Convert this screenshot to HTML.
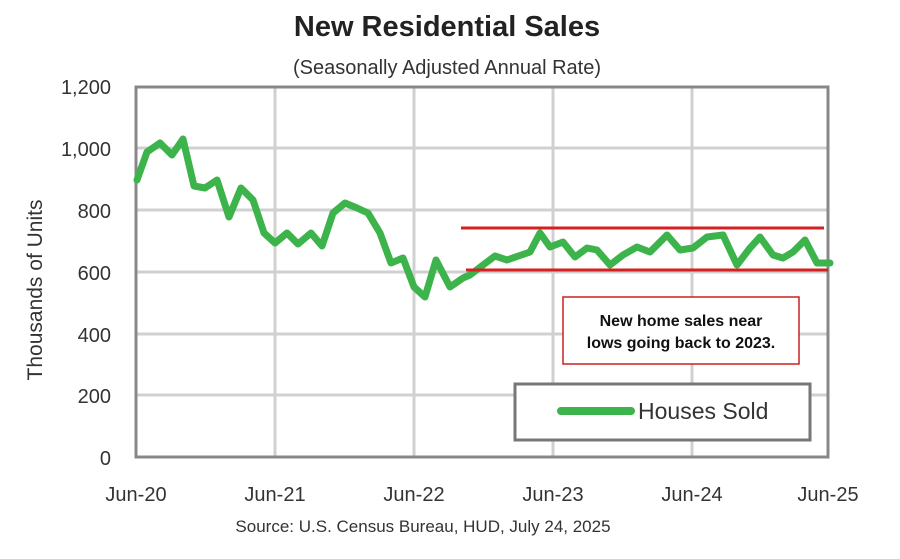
<!DOCTYPE html>
<html><head><meta charset="utf-8"><style>
body{margin:0;background:#fff;width:900px;height:554px;overflow:hidden;font-family:"Liberation Sans","DejaVu Sans",sans-serif}
</style></head><body>
<svg width="900" height="554" viewBox="0 0 900 554" xmlns="http://www.w3.org/2000/svg" font-family="Liberation Sans, DejaVu Sans, sans-serif">
<rect width="900" height="554" fill="#fff"/>
<text x="447" y="36" font-size="29" font-weight="bold" text-anchor="middle" fill="#222">New Residential Sales</text>
<text x="447" y="74" font-size="20" text-anchor="middle" fill="#333">(Seasonally Adjusted Annual Rate)</text>
<g stroke="#d0d0d0" stroke-width="3">
<line x1="135" y1="148" x2="828" y2="148"/><line x1="135" y1="210" x2="828" y2="210"/>
<line x1="135" y1="272" x2="828" y2="272"/><line x1="135" y1="334" x2="828" y2="334"/>
<line x1="135" y1="395" x2="828" y2="395"/>
<line x1="275" y1="87" x2="275" y2="457"/><line x1="414" y1="87" x2="414" y2="457"/>
<line x1="553" y1="87" x2="553" y2="457"/><line x1="692" y1="87" x2="692" y2="457"/>
</g>
<rect x="136" y="87" width="692" height="370" fill="none" stroke="#888" stroke-width="3"/>
<g font-size="20" fill="#333" text-anchor="end">
<text x="111" y="94">1,200</text><text x="111" y="156">1,000</text><text x="111" y="218">800</text>
<text x="111" y="280">600</text><text x="111" y="342">400</text><text x="111" y="403">200</text><text x="111" y="465">0</text>
</g>
<g font-size="20" fill="#333" text-anchor="middle">
<text x="136" y="501">Jun-20</text><text x="275" y="501">Jun-21</text><text x="414" y="501">Jun-22</text>
<text x="553" y="501">Jun-23</text><text x="692" y="501">Jun-24</text><text x="828" y="501">Jun-25</text>
</g>
<text transform="translate(42,290) rotate(-90)" font-size="21" fill="#333" text-anchor="middle">Thousands of Units</text>
<text x="423" y="532" font-size="17" fill="#333" text-anchor="middle">Source:  U.S. Census Bureau, HUD, July 24, 2025</text>
<polyline fill="none" stroke="#3cb44b" stroke-width="7" stroke-linejoin="round" stroke-linecap="round" points="137,180 147,152 160,143 172,155 183,139 194,186 205,188 217,180 229,217 241,188 253,200 264,233 275,243 287,233 298,244 311,233 322,246 333,213 345,203 357,208 368,213 380,233 391,263 403,258 414,287 425,297 436,260 450,287 463,278 470,275 483,265 495,256 507,260 530,252 540,233 550,247 563,242 575,257 587,248 597,250 610,265 623,255 637,247 650,252 667,235 680,250 693,248 707,237 723,235 737,265 750,248 760,237 773,255 783,258 793,252 805,240 817,263 830,263"/>
<line x1="461" y1="228" x2="824" y2="228" stroke="#d42020" stroke-width="3"/>
<line x1="466" y1="270" x2="828" y2="270" stroke="#d42020" stroke-width="3"/>
<rect x="563" y="297" width="236" height="67" fill="#fff" stroke="#c82020" stroke-width="1.5"/>
<text x="681" y="326" font-size="16" font-weight="bold" text-anchor="middle" fill="#111">New home sales near</text>
<text x="681" y="348" font-size="16" font-weight="bold" text-anchor="middle" fill="#111">lows going back to 2023.</text>
<rect x="515" y="384" width="295" height="56" fill="#fff" stroke="#777" stroke-width="3"/>
<line x1="561" y1="411" x2="631" y2="411" stroke="#3cb44b" stroke-width="8" stroke-linecap="round"/>
<text x="638" y="419" font-size="23" fill="#333">Houses Sold</text>
</svg>
</body></html>
